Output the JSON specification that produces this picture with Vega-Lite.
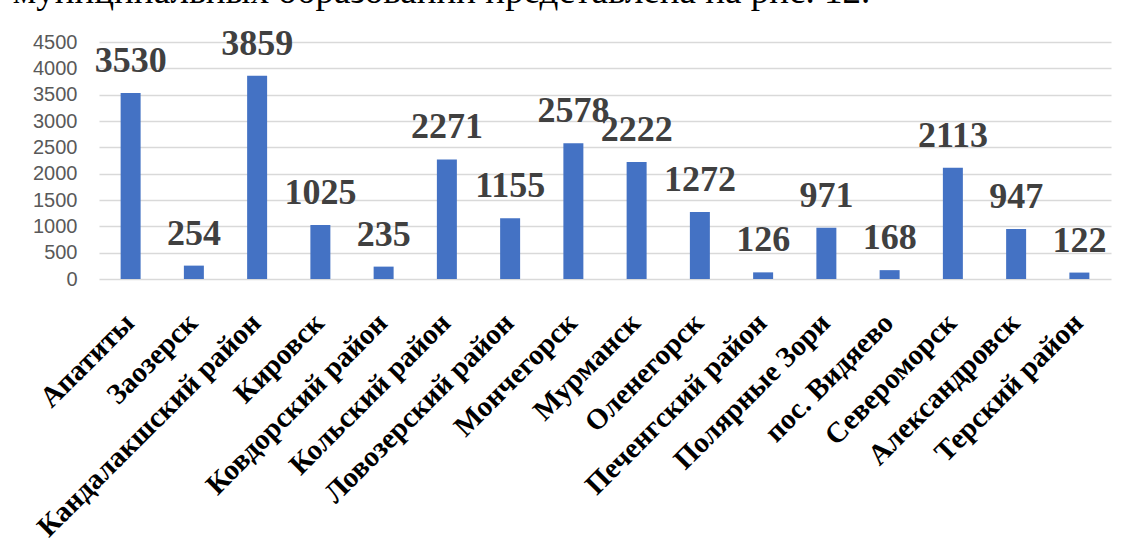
{
  "$schema": "https://vega.github.io/schema/vega-lite/v6.json",
  "autosize": {"type": "none"},
  "padding": {"left": 99, "top": 42, "right": 14, "bottom": 266},
  "width": 1012,
  "height": 237,
  "background": "white",
  "title": {
    "text": "у муниципальных образований представлена на рис. 12.",
    "font": "Liberation Serif",
    "fontSize": 37,
    "fontWeight": "normal",
    "color": "#000000",
    "anchor": "start",
    "frame": "group",
    "baseline": "alphabetic",
    "offset": 0,
    "dx": -114,
    "dy": 14
  },
  "data": {
    "values": [
      {"name": "Апатиты", "value": 3530},
      {"name": "Заозерск", "value": 254},
      {"name": "Кандалакшский район", "value": 3859},
      {"name": "Кировск", "value": 1025},
      {"name": "Ковдорский район", "value": 235},
      {"name": "Кольский район", "value": 2271},
      {"name": "Ловозерский район", "value": 1155},
      {"name": "Мончегорск", "value": 2578},
      {"name": "Мурманск", "value": 2222},
      {"name": "Оленегорск", "value": 1272},
      {"name": "Печенгский район", "value": 126},
      {"name": "Полярные Зори", "value": 971},
      {"name": "пос. Видяево", "value": 168},
      {"name": "Североморск", "value": 2113},
      {"name": "Александровск", "value": 947},
      {"name": "Терский район", "value": 122}
    ]
  },
  "encoding": {
    "x": {
      "field": "name",
      "type": "nominal",
      "sort": null,
      "scale": {"paddingInner": 0.684, "paddingOuter": 0.342},
      "axis": {
        "title": null,
        "labelAngle": -45,
        "labelFont": "Liberation Serif",
        "labelFontWeight": "bold",
        "labelFontSize": 29,
        "labelColor": "#000000",
        "labelPadding": 29,
        "labelOffset": -11,
        "ticks": false,
        "domain": false,
        "labelLimit": 0,
        "labelOverlap": false
      }
    },
    "y": {
      "field": "value",
      "type": "quantitative",
      "scale": {"domain": [0, 4500], "nice": false},
      "axis": {
        "title": null,
        "format": "d",
        "values": [0, 500, 1000, 1500, 2000, 2500, 3000, 3500, 4000, 4500],
        "labelFont": "Liberation Sans",
        "labelFontSize": 20,
        "labelColor": "#595959",
        "labelPadding": 22,
        "ticks": false,
        "domain": false,
        "grid": true,
        "gridColor": "#d9d9d9",
        "gridWidth": 1.5
      }
    }
  },
  "layer": [
    {"mark": {"type": "bar", "color": "#4472C4"}},
    {
      "mark": {
        "type": "text",
        "font": "Liberation Serif",
        "fontWeight": "bold",
        "fontSize": 36,
        "color": "#404040",
        "baseline": "alphabetic",
        "dy": -21
      },
      "encoding": {"text": {"field": "value", "type": "quantitative", "format": "d"}}
    }
  ],
  "config": {"view": {"stroke": null}}
}
